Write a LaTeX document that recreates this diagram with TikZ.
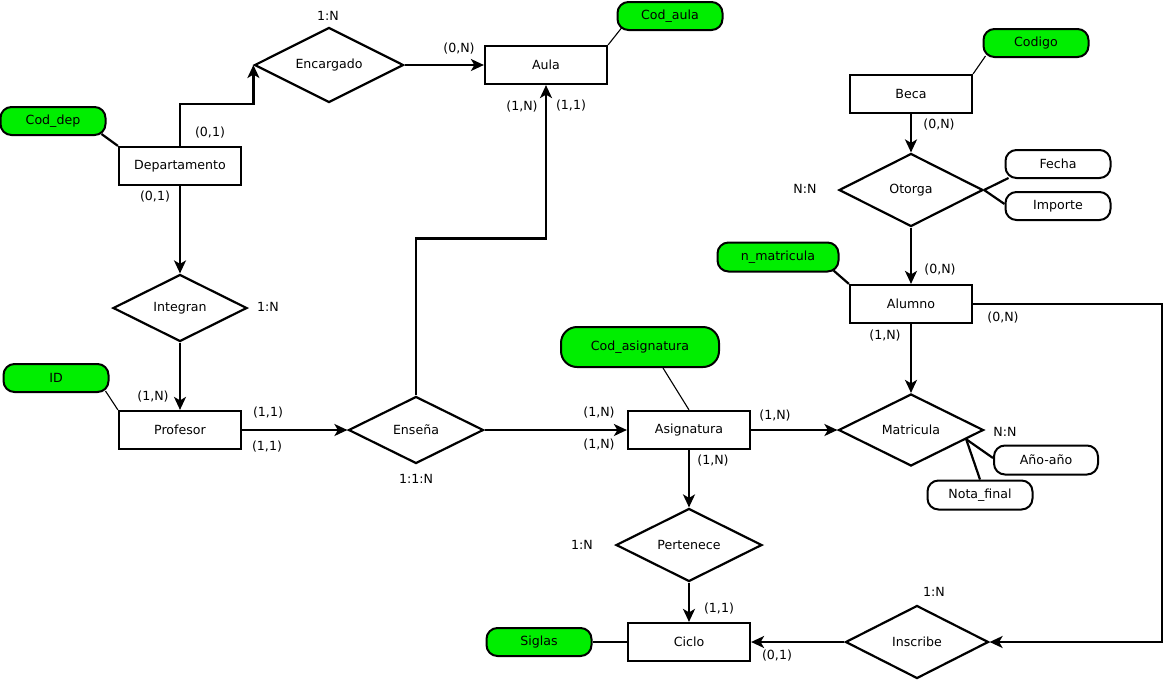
\documentclass[tikz,border=0pt]{standalone}
\usepackage{fontspec}
\setmainfont{DejaVu Sans}
\usetikzlibrary{shapes.geometric,arrows.meta,calc}
\definecolor{attrgreen}{HTML}{00EE00}
\begin{document}
\begin{tikzpicture}[x=1pt,y=-1pt,
  every node/.style={font=\fontsize{12.6}{15}\selectfont, text=black},
  entity/.style={draw, line width=2.2pt, fill=white, minimum width=122pt, minimum height=38pt, inner sep=0pt},
  rel/.style={draw, diamond, aspect=2, line width=2.2pt, fill=white, inner sep=0pt},
  attr/.style={draw, line width=2pt, fill=white, rounded corners=11pt, minimum width=105pt, minimum height=28pt, inner sep=0pt},
  key/.style={attr, fill=attrgreen},
  card/.style={inner sep=0pt},
  arr/.style={line width=2.2pt, -{Stealth[length=13pt,width=12pt,inset=3.5pt]}},
  link/.style={line width=2.2pt},
  thinlink/.style={line width=1.1pt},
]
\useasboundingbox (0,0) rectangle (1163,681);

% entities
\node[entity] (dep)   at (180,166) {Departamento};
\node[entity] (aula)  at (546,65)  {Aula};
\node[entity] (beca)  at (911,94)  {Beca};
\node[entity] (alu)   at (911,304) {Alumno};
\node[entity] (prof)  at (180,430) {Profesor};
\node[entity] (asig)  at (689,430) {Asignatura};
\node[entity] (ciclo) at (689,642) {Ciclo};

% relationships
\node[rel, minimum width=149pt, minimum height=75pt] (enc) at (329,65)  {Encargado};
\node[rel, minimum width=134pt, minimum height=67pt] (int) at (180,308) {Integran};
\node[rel, minimum width=135pt, minimum height=67pt] (ens) at (416,430) {Enseña};
\node[rel, minimum width=144pt, minimum height=73pt] (oto) at (911,190) {Otorga};
\node[rel, minimum width=145pt, minimum height=72pt] (mat) at (911,430) {Matricula};
\node[rel, minimum width=146pt, minimum height=73pt] (per) at (689,545) {Pertenece};
\node[rel, minimum width=143pt, minimum height=73pt] (ins) at (917,642) {Inscribe};

% attributes
\node[key] (coddep)  at (53,121)   {Cod\_dep};
\node[key] (codaula) at (670,16)   {Cod\_aula};
\node[key] (codigo)  at (1036,43)  {Codigo};
\node[key, minimum width=121pt, minimum height=29pt] (nmat) at (778,257) {n\_matricula};
\node[key] (id)      at (56,378)   {ID};
\node[key, minimum width=158pt, minimum height=40pt, rounded corners=16pt] (codasig) at (640,347) {Cod\_asignatura};
\node[key] (siglas)  at (539,642)  {Siglas};
\node[attr] (fecha)  at (1058,164) {Fecha};
\node[attr] (imp)    at (1058,206) {Importe};
\node[attr, minimum width=104pt, minimum height=29pt] (anio) at (1046,460) {Año-año};
\node[attr, minimum height=29pt] (nota) at (980,495) {Nota\_final};

% attribute links
\draw[link] ([xshift=-5pt,yshift=2pt]coddep.south east) -- (dep.north west);
\draw[thinlink] ([xshift=5pt,yshift=3pt]codaula.south west) -- (aula.north east);
\draw[thinlink] ([xshift=3pt,yshift=2pt]codigo.south west) -- (beca.north east);
\draw[link] ([xshift=-6pt,yshift=2pt]nmat.south east) -- (alu.north west);
\draw[thinlink] ([xshift=-4pt,yshift=2pt]id.south east) -- (prof.north west);
\draw[thinlink] ([xshift=23pt]codasig.south) -- (asig.north);
\draw[link] (siglas.east) -- (ciclo.west);
\draw[link] (oto.east) -- ([xshift=4pt,yshift=1pt]fecha.south west);
\draw[link] (oto.east) -- ([yshift=2pt]imp.west);
\coordinate (matedge) at ($(mat.east)!0.25!(mat.south)$);
\draw[link] (matedge) -- ([yshift=2pt]anio.west);
\draw[link] (matedge) -- (nota.north);

% relationship connectors
\draw[arr] (dep.north) -- ++(0,-42) -| (enc.west);
\draw[arr] (enc.east) -- (aula.west);
\draw[arr] (dep.south) -- (int.north);
\draw[arr] (int.south) -- (prof.north);
\draw[arr] (prof.east) -- (ens.west);
\draw[arr] (ens.north) -- ++(0,-157) -| (aula.south);
\draw[arr] (ens.east) -- (asig.west);
\draw[arr] (asig.east) -- (mat.west);
\draw[arr] (alu.south) -- (mat.north);
\draw[arr] (beca.south) -- (oto.north);
\draw[arr] (oto.south) -- (alu.north);
\draw[arr] (alu.east) -- ++(189,0) |- (ins.east);
\draw[arr] (ins.west) -- (ciclo.east);
\draw[arr] (asig.south) -- (per.north);
\draw[arr] (per.south) -- (ciclo.north);

% cardinalities
\node[card] (k1)  at (328,16)  {1:N};
\node[card] (k2)  at (210,133) {(0,1)};
\node[card] (k3)  at (459,49)  {(0,N)};
\node[card] (k4)  at (155,197) {(0,1)};
\node[card] (k5)  at (268,307) {1:N};
\node[card] (k6)  at (153,397) {(1,N)};
\node[card] (k7)  at (268,413) {(1,1)};
\node[card] (k8)  at (267,447) {(1,1)};
\node[card] (k9)  at (522,107) {(1,N)};
\node[card] (k10) at (571,106) {(1,1)};
\node[card] (k11) at (599,413) {(1,N)};
\node[card] (k12) at (599,445) {(1,N)};
\node[card] (k13) at (416,479) {1:1:N};
\node[card] (k14) at (775,416) {(1,N)};
\node[card] (k15) at (885,336) {(1,N)};
\node[card] (k16) at (939,125) {(0,N)};
\node[card] (k17) at (805,189) {N:N};
\node[card] (k18) at (940,270) {(0,N)};
\node[card] (k19) at (1003,318) {(0,N)};
\node[card] (k20) at (1005,432) {N:N};
\node[card] (k21) at (777,656) {(0,1)};
\node[card] (k22) at (934,592) {1:N};
\node[card] (k23) at (713,461) {(1,N)};
\node[card] (k24) at (582,545) {1:N};
\node[card] (k25) at (719,609) {(1,1)};
\end{tikzpicture}
\end{document}
